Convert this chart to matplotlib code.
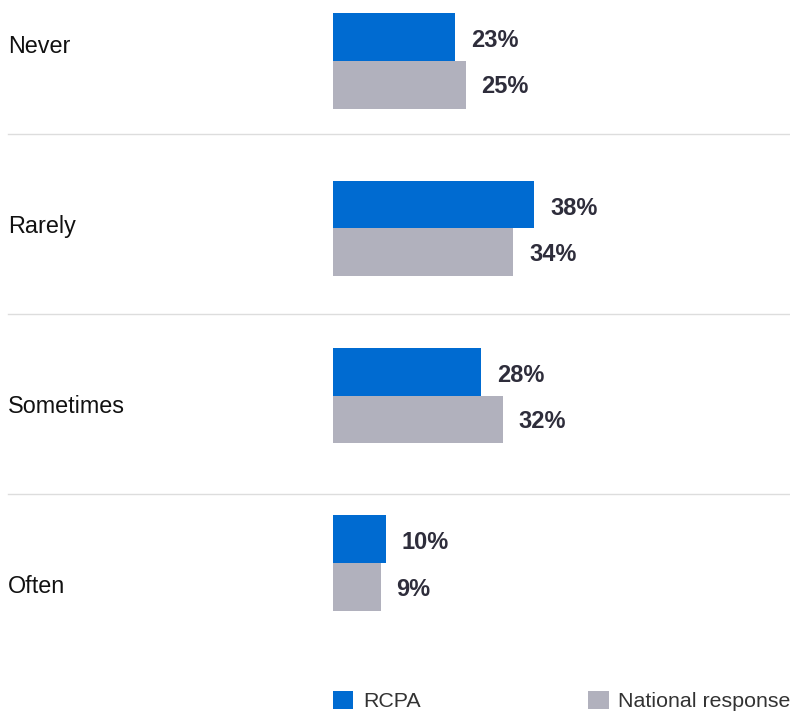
import numpy as np
import matplotlib.pyplot as plt

categories = ['Never', 'Rarely', 'Sometimes', 'Often']
rcpa = [23, 38, 28, 10]
national = [25, 34, 32, 9]
series_names = ['RCPA', 'National response']

blue = '#006bd1'
grey = '#b1b1bd'
txt = '#2e2d3b'

plt.rcParams['font.family'] = ['Liberation Sans', 'DejaVu Sans']

W, H = 790, 711
fig = plt.figure(figsize=(W / 100, H / 100), dpi=100)
ax = fig.add_axes([333 / W, 37 / H, 457 / W, 674 / H])
ax.set_xlim(0, 457 / 5.3)
ax.set_ylim(3.5, -0.244)
ax.axis('off')

idx = np.arange(len(categories))
# bar groups sit a little off the band centers in the original
group_y = 0.094 + 0.93 * idx
bh = 0.265

b1 = ax.barh(group_y - bh / 2, rcpa, height=bh, color=blue, label=series_names[0])
b2 = ax.barh(group_y + bh / 2, national, height=bh, color=grey, label=series_names[1])

for y, v in zip(group_y - bh / 2, rcpa):
    ax.text(v + 3, y + 0.02, f'{v}%', va='center', ha='left', fontsize=17,
            fontweight='bold', color=txt)
for y, v in zip(group_y + bh / 2, national):
    ax.text(v + 3, y + 0.012, f'{v}%', va='center', ha='left', fontsize=17,
            fontweight='bold', color=txt)

for i, c in enumerate(categories):
    ax.text(-325 / 457, i + 0.012, c, transform=ax.get_yaxis_transform(), va='center',
            ha='left', fontsize=16.8, color='#111111')

for i in idx[:-1]:
    ax.axhline(i + 0.5, xmin=-325 / 457, xmax=1, color='#dddddd', lw=1, clip_on=False)

fig.legend(handles=[b1, b2], loc='center left', bbox_to_anchor=(333 / W, 10 / H),
           ncol=2, frameon=False, fontsize=15.4, handlelength=0.95, handleheight=0.95,
           handletextpad=0.45, columnspacing=7.85, borderpad=0, borderaxespad=0,
           labelcolor='#333333')

fig.savefig('out.png', dpi=100)
